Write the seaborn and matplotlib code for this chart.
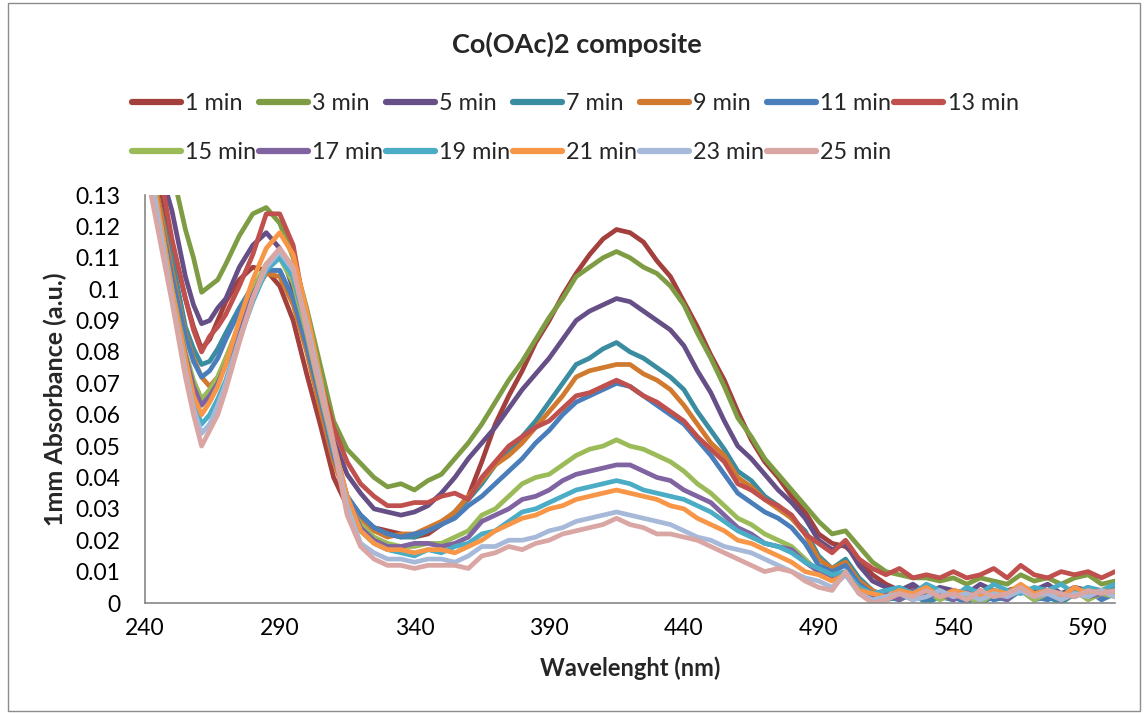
import matplotlib
matplotlib.use("Agg")
import matplotlib.pyplot as plt
from matplotlib.lines import Line2D
from matplotlib.patches import Rectangle
import numpy as np
import pandas as pd
import seaborn as sns

# ---------------- data ----------------
wavelength = [240, 245, 250, 255, 258, 261, 264, 267] + list(range(270, 601, 5))

series_labels = ["1 min", "3 min", "5 min", "7 min", "9 min", "11 min", "13 min",
                 "15 min", "17 min", "19 min", "21 min", "23 min", "25 min"]

min1 = [0.150, 0.135, 0.115, 0.097, 0.088, 0.081, 0.084, 0.090,
        0.096, 0.103, 0.107, 0.106, 0.101, 0.090, 0.073, 0.057, 0.040, 0.031,
        0.027, 0.024, 0.023, 0.022, 0.021, 0.022, 0.025, 0.029, 0.034, 0.045,
        0.057, 0.066, 0.074, 0.083, 0.090, 0.098, 0.105, 0.111, 0.116, 0.119,
        0.118, 0.115, 0.109, 0.104, 0.096, 0.088, 0.079, 0.071, 0.061, 0.052,
        0.045, 0.040, 0.034, 0.029, 0.022, 0.019, 0.018, 0.014, 0.009, 0.006,
        0.004, 0.005, 0.003, 0.004, 0.002, 0.004, 0.003, 0.002, 0.004, 0.005,
        0.003, 0.004, 0.002, 0.004, 0.003, 0.002, 0.004]

min3 = [0.175, 0.160, 0.138, 0.119, 0.110, 0.099, 0.101, 0.103,
        0.108, 0.117, 0.124, 0.126, 0.121, 0.110, 0.094, 0.076, 0.058, 0.049,
        0.0445, 0.040, 0.037, 0.038, 0.036, 0.039, 0.041, 0.046, 0.051, 0.057,
        0.064, 0.071, 0.077, 0.084, 0.091, 0.097, 0.104, 0.107, 0.110, 0.112,
        0.110, 0.107, 0.105, 0.101, 0.095, 0.086, 0.078, 0.069, 0.059, 0.053,
        0.046, 0.041, 0.036, 0.031, 0.026, 0.022, 0.023, 0.018, 0.013, 0.010,
        0.009, 0.008, 0.008, 0.007, 0.008, 0.006, 0.008, 0.007, 0.006, 0.009,
        0.007, 0.008, 0.006, 0.008, 0.009, 0.006, 0.007]

min5 = [0.160, 0.140, 0.125, 0.104, 0.095, 0.089, 0.090, 0.094,
        0.097, 0.107, 0.114, 0.118, 0.113, 0.100, 0.085, 0.069, 0.052, 0.041,
        0.035, 0.030, 0.029, 0.028, 0.029, 0.031, 0.035, 0.040, 0.046, 0.051,
        0.056, 0.062, 0.068, 0.073, 0.078, 0.084, 0.090, 0.093, 0.095, 0.097,
        0.096, 0.093, 0.090, 0.087, 0.082, 0.074, 0.067, 0.058, 0.050, 0.046,
        0.041, 0.036, 0.032, 0.027, 0.020, 0.017, 0.019, 0.012, 0.007, 0.005,
        0.004, 0.006, 0.003, 0.005, 0.004, 0.003, 0.006, 0.004, 0.003, 0.005,
        0.004, 0.006, 0.003, 0.005, 0.004, 0.003, 0.005]

min7 = [0.150, 0.128, 0.110, 0.088, 0.081, 0.076, 0.077, 0.081,
        0.086, 0.094, 0.101, 0.106, 0.106, 0.096, 0.082, 0.064, 0.046, 0.034,
        0.028, 0.024, 0.022, 0.021, 0.021, 0.023, 0.025, 0.029, 0.033, 0.038,
        0.044, 0.048, 0.053, 0.058, 0.064, 0.070, 0.076, 0.078, 0.081, 0.083,
        0.080, 0.078, 0.075, 0.072, 0.068, 0.061, 0.055, 0.049, 0.042, 0.039,
        0.034, 0.031, 0.027, 0.023, 0.015, 0.011, 0.014, 0.008, 0.004, 0.002,
        0.001, 0.003, 0.000, 0.002, 0.001, 0.003, 0.000, 0.002, 0.001, 0.004,
        0.001, 0.002, 0.000, 0.003, 0.005, 0.002, 0.006]

min9 = [0.150, 0.128, 0.106, 0.086, 0.078, 0.072, 0.069, 0.072,
        0.078, 0.088, 0.098, 0.105, 0.104, 0.095, 0.080, 0.062, 0.045, 0.033,
        0.027, 0.023, 0.021, 0.022, 0.022, 0.024, 0.026, 0.029, 0.034, 0.039,
        0.044, 0.047, 0.051, 0.056, 0.061, 0.066, 0.072, 0.074, 0.075, 0.076,
        0.076, 0.073, 0.071, 0.068, 0.063, 0.057, 0.051, 0.047, 0.040, 0.037,
        0.033, 0.030, 0.027, 0.022, 0.014, 0.011, 0.013, 0.007, 0.004, 0.002,
        0.003, 0.001, 0.004, 0.002, 0.003, 0.001, 0.004, 0.002, 0.003, 0.005,
        0.002, 0.004, 0.001, 0.003, 0.002, 0.004, 0.003]

min11 = [0.150, 0.125, 0.104, 0.085, 0.077, 0.072, 0.074, 0.078,
         0.084, 0.093, 0.101, 0.106, 0.106, 0.097, 0.082, 0.065, 0.047, 0.034,
         0.028, 0.024, 0.022, 0.021, 0.022, 0.023, 0.025, 0.027, 0.031, 0.034,
         0.038, 0.042, 0.046, 0.051, 0.055, 0.060, 0.064, 0.066, 0.068, 0.070,
         0.069, 0.066, 0.063, 0.060, 0.057, 0.052, 0.047, 0.041, 0.035, 0.032,
         0.029, 0.027, 0.024, 0.019, 0.012, 0.010, 0.012, 0.006, 0.003, 0.001,
         0.002, 0.004, 0.001, 0.003, 0.002, 0.000, 0.003, 0.001, 0.002, 0.004,
         0.002, 0.001, 0.003, 0.002, 0.004, 0.001, 0.003]

min13 = [0.165, 0.140, 0.116, 0.097, 0.087, 0.080, 0.085, 0.088,
         0.092, 0.101, 0.111, 0.124, 0.124, 0.114, 0.090, 0.071, 0.056, 0.045,
         0.038, 0.034, 0.031, 0.031, 0.032, 0.032, 0.034, 0.035, 0.033, 0.040,
         0.045, 0.050, 0.053, 0.056, 0.058, 0.062, 0.066, 0.067, 0.069, 0.071,
         0.069, 0.066, 0.064, 0.061, 0.058, 0.053, 0.049, 0.045, 0.038, 0.036,
         0.033, 0.031, 0.028, 0.022, 0.019, 0.016, 0.020, 0.014, 0.011, 0.009,
         0.011, 0.008, 0.009, 0.008, 0.010, 0.008, 0.009, 0.011, 0.008, 0.012,
         0.009, 0.008, 0.010, 0.009, 0.010, 0.008, 0.010]

min15 = [0.150, 0.125, 0.100, 0.080, 0.071, 0.065, 0.068, 0.072,
         0.078, 0.089, 0.100, 0.108, 0.110, 0.102, 0.086, 0.067, 0.049, 0.033,
         0.025, 0.021, 0.019, 0.018, 0.018, 0.019, 0.019, 0.021, 0.023, 0.028,
         0.030, 0.034, 0.038, 0.040, 0.041, 0.044, 0.047, 0.049, 0.050, 0.052,
         0.050, 0.049, 0.047, 0.045, 0.042, 0.038, 0.035, 0.031, 0.027, 0.025,
         0.022, 0.020, 0.018, 0.014, 0.010, 0.008, 0.009, 0.005, 0.002, 0.001,
         0.003, 0.002, 0.004, 0.001, 0.003, 0.002, 0.000, 0.003, 0.002, 0.004,
         0.001, 0.003, 0.002, 0.004, 0.001, 0.003, 0.002]

min17 = [0.150, 0.124, 0.099, 0.079, 0.069, 0.063, 0.066, 0.070,
         0.076, 0.087, 0.098, 0.107, 0.111, 0.104, 0.088, 0.069, 0.050, 0.034,
         0.024, 0.020, 0.018, 0.018, 0.019, 0.019, 0.018, 0.019, 0.021, 0.026,
         0.028, 0.030, 0.033, 0.034, 0.036, 0.039, 0.041, 0.042, 0.043, 0.044,
         0.044, 0.042, 0.040, 0.039, 0.036, 0.034, 0.032, 0.028, 0.024, 0.022,
         0.019, 0.018, 0.017, 0.013, 0.010, 0.008, 0.009, 0.005, 0.002, 0.003,
         0.001, 0.004, 0.002, 0.003, 0.001, 0.004, 0.002, 0.003, 0.001, 0.005,
         0.002, 0.003, 0.001, 0.004, 0.002, 0.003, 0.004]

min19 = [0.150, 0.122, 0.097, 0.076, 0.064, 0.057, 0.060, 0.065,
         0.071, 0.084, 0.096, 0.106, 0.110, 0.104, 0.088, 0.069, 0.049, 0.033,
         0.023, 0.019, 0.017, 0.016, 0.015, 0.017, 0.016, 0.018, 0.019, 0.022,
         0.023, 0.026, 0.029, 0.030, 0.032, 0.034, 0.036, 0.037, 0.038, 0.039,
         0.038, 0.036, 0.035, 0.034, 0.033, 0.031, 0.029, 0.026, 0.023, 0.021,
         0.019, 0.018, 0.016, 0.013, 0.011, 0.009, 0.010, 0.005, 0.003, 0.004,
         0.005, 0.003, 0.006, 0.004, 0.002, 0.005, 0.003, 0.006, 0.004, 0.003,
         0.005, 0.004, 0.006, 0.003, 0.005, 0.004, 0.006]

min21 = [0.150, 0.125, 0.100, 0.078, 0.066, 0.060, 0.064, 0.069,
         0.076, 0.090, 0.103, 0.113, 0.118, 0.111, 0.093, 0.072, 0.051, 0.034,
         0.023, 0.019, 0.017, 0.017, 0.016, 0.017, 0.017, 0.016, 0.018, 0.020,
         0.023, 0.025, 0.027, 0.028, 0.030, 0.031, 0.033, 0.034, 0.035, 0.036,
         0.035, 0.034, 0.033, 0.031, 0.030, 0.027, 0.025, 0.023, 0.020, 0.019,
         0.017, 0.015, 0.013, 0.010, 0.009, 0.007, 0.009, 0.004, 0.003, 0.002,
         0.004, 0.003, 0.005, 0.002, 0.004, 0.003, 0.002, 0.004, 0.003, 0.006,
         0.003, 0.004, 0.002, 0.005, 0.003, 0.004, 0.003]

min23 = [0.148, 0.122, 0.097, 0.074, 0.062, 0.054, 0.057, 0.063,
         0.070, 0.084, 0.097, 0.107, 0.112, 0.106, 0.089, 0.070, 0.050, 0.031,
         0.019, 0.016, 0.014, 0.014, 0.013, 0.014, 0.014, 0.013, 0.015, 0.018,
         0.018, 0.020, 0.020, 0.021, 0.023, 0.024, 0.026, 0.027, 0.028, 0.029,
         0.028, 0.027, 0.026, 0.025, 0.023, 0.021, 0.020, 0.018, 0.017, 0.016,
         0.014, 0.012, 0.010, 0.008, 0.007, 0.005, 0.009, 0.003, 0.001, 0.002,
         0.003, 0.001, 0.002, 0.004, 0.002, 0.003, 0.001, 0.003, 0.002, 0.004,
         0.002, 0.003, 0.001, 0.003, 0.002, 0.004, 0.002]

min25 = [0.140, 0.118, 0.096, 0.072, 0.060, 0.050, 0.055, 0.060,
         0.068, 0.083, 0.097, 0.108, 0.113, 0.107, 0.087, 0.068, 0.050, 0.028,
         0.018, 0.014, 0.012, 0.012, 0.011, 0.012, 0.012, 0.012, 0.011, 0.015,
         0.016, 0.018, 0.017, 0.019, 0.020, 0.022, 0.023, 0.024, 0.025, 0.027,
         0.025, 0.024, 0.022, 0.022, 0.021, 0.020, 0.018, 0.016, 0.014, 0.012,
         0.010, 0.011, 0.010, 0.007, 0.005, 0.004, 0.010, 0.003, 0.000, 0.001,
         0.003, 0.002, 0.004, 0.002, 0.003, 0.001, 0.004, 0.002, 0.003, 0.005,
         0.002, 0.004, 0.003, 0.002, 0.004, 0.003, 0.004]

series_values = [min1, min3, min5, min7, min9, min11, min13,
                 min15, min17, min19, min21, min23, min25]

x_ticks = [240, 290, 340, 390, 440, 490, 540, 590]
y_ticks = [0, 0.01, 0.02, 0.03, 0.04, 0.05, 0.06, 0.07, 0.08, 0.09, 0.10, 0.11, 0.12, 0.13]
y_tick_labels = ["0", "0.01", "0.02", "0.03", "0.04", "0.05", "0.06", "0.07",
                 "0.08", "0.09", "0.1", "0.11", "0.12", "0.13"]

colors = ["#A3403D", "#7E9C43", "#654F86", "#3A8CA0", "#D0792F", "#4A7EBB", "#C0504D",
          "#9BBB59", "#8064A2", "#4BACC6", "#F79646", "#A7B9D9", "#D9A6A4"]

# ---------------- long-form table ----------------
rows = []
for lab, vals in zip(series_labels, series_values):
    for wl, v in zip(wavelength, vals):
        rows.append({"wavelength": wl, "absorbance": v, "series": lab})
df = pd.DataFrame(rows)

# ---------------- style ----------------
sns.set_style("white")
plt.rcParams["font.family"] = ["Lato", "DejaVu Sans"]

fig = plt.figure(figsize=(11.47, 7.13), dpi=100)
ax = fig.add_axes([145 / 1147, 1 - 603 / 713, 970 / 1147, 408 / 713])

sns.lineplot(data=df, x="wavelength", y="absorbance", hue="series",
             hue_order=series_labels, palette=colors, linewidth=3.4,
             estimator=None, sort=False, legend=False, ax=ax,
             solid_joinstyle="round", solid_capstyle="round")

ax.set_xlim(240, 600)
ax.set_ylim(0, 0.13)
ax.set_xticks(x_ticks)
ax.set_xticklabels([str(t) for t in x_ticks])
ax.set_yticks(y_ticks)
ax.set_yticklabels(y_tick_labels)

axis_gray = "#868686"
for side in ["top", "right"]:
    ax.spines[side].set_visible(False)
for side in ["left", "bottom"]:
    ax.spines[side].set_color(axis_gray)
    ax.spines[side].set_linewidth(1.2)
ax.tick_params(axis="both", which="both", direction="out", length=5, width=1.2,
               color=axis_gray, labelcolor="black", labelsize=16.5)
ax.tick_params(axis="y", pad=13)
ax.tick_params(axis="x", pad=6)

ax.set_xlabel("Wavelenght (nm)", fontsize=17, fontweight="bold")
ax.set_ylabel("1mm Absorbance (a.u.)", fontsize=18, fontweight="bold")
ax.xaxis.set_label_coords(0.5, -0.13)
ax.yaxis.set_label_coords(-0.08, 0.5)

fig.text(577 / 1147, 1 - 44 / 713, "Co(OAc)2 composite", ha="center", va="center",
         fontsize=19.5, fontweight="bold")

# legend filled row by row (matplotlib fills column by column)
order = [0, 7, 1, 8, 2, 9, 3, 10, 4, 11, 5, 12, 6]
handles = [Line2D([0], [0], color=colors[i], lw=4.5, solid_capstyle="round") for i in order]
labels = [series_labels[i] for i in order]
fig.legend(handles, labels, loc="upper left",
           bbox_to_anchor=(132 / 1147, 1 - 93 / 713), ncol=7, frameon=False,
           fontsize=16.8, handlelength=2.1, handletextpad=0.18, columnspacing=0.12,
           labelspacing=1.2, borderpad=0, borderaxespad=0)

fig.patches.append(Rectangle((8 / 1147, 2 / 713), 1132 / 1147, 708 / 713,
                             transform=fig.transFigure, fill=False,
                             edgecolor="#8c8c8c", linewidth=1))

fig.savefig("out.png", dpi=100)
